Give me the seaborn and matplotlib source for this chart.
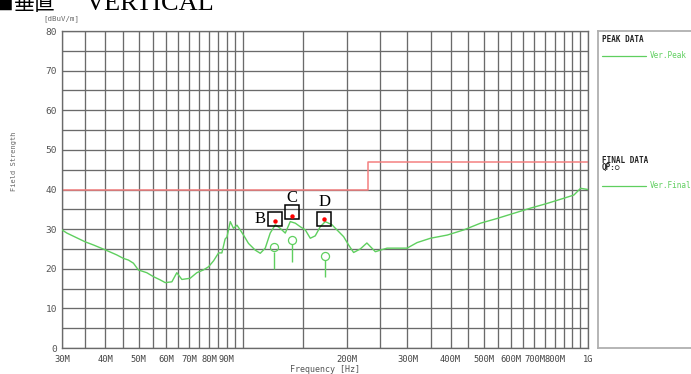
import numpy as np
import pandas as pd
import matplotlib
matplotlib.use("Agg")
import matplotlib.pyplot as plt
from matplotlib.ticker import NullFormatter
import seaborn as sns

# peak trace (MHz, dBuV/m)
peak_freq = [30.0, 31.0, 35.0, 37.0, 40.2, 43.2, 45.2, 46.7, 48.3, 49.9,
             52.8, 55.2, 57.7, 59.7, 62.4, 64.5, 66.7, 70.5, 73.7, 77.0,
             79.7, 82.4, 85.2, 87.1, 89.0, 90.1, 92.1, 94.1, 96.3, 98.4,
             100.6, 104.0, 108.8, 112.5, 116.3, 120.2, 124.3, 128.5, 132.9, 137.4,
             142.1, 146.9, 151.9, 157.0, 162.3, 167.8, 173.5, 181.4, 187.6, 196.1,
             202.7, 209.6, 219.2, 229.0, 242.3, 250.5, 262.0, 280.0, 299.4, 320.0,
             349.9, 391.2, 436.9, 488.4, 546.0, 610.0, 681.9, 762.3, 851.5, 910.2,
             951.7, 1000.0]
peak_level = [29.8, 29.0, 26.8, 26.0, 24.7, 23.5, 22.6, 22.2, 21.4, 19.7,
              19.0, 18.0, 17.2, 16.5, 16.7, 19.0, 17.3, 17.6, 19.0, 19.7,
              20.5, 22.0, 24.0, 24.0, 27.5, 28.0, 31.9, 30.2, 31.0, 29.8,
              28.5, 26.4, 24.7, 23.9, 25.2, 29.0, 31.1, 30.2, 29.0, 31.9,
              31.5, 30.6, 29.8, 27.7, 28.3, 30.6, 31.9, 31.1, 29.8, 28.1,
              26.0, 24.1, 25.0, 26.5, 24.3, 24.7, 25.2, 25.2, 25.2, 26.6,
              27.7, 28.5, 29.8, 31.5, 32.7, 34.0, 35.3, 36.5, 37.8, 38.6,
              40.3, 40.0]

# limit line
limit_freq = [30, 230, 230, 1000]
limit_level = [40, 40, 47, 47]

# final QP data
qp_freq = [123.4, 139.4, 173.5]
qp_level = [25.4, 27.3, 23.3]
qp_stem_bottom = [20.0, 21.8, 18.0]

# marked points B, C, D
mark_labels = ["B", "C", "D"]
mark_freq = [124.3, 139.0, 172.4]
mark_dot_level = [32.1, 33.4, 32.6]
mark_box_level = [32.5, 34.3, 32.5]

xtick_vals = [30, 40, 50, 60, 70, 80, 90, 200, 300, 400, 500, 600, 700, 800, 1000]
xtick_text = ["30M", "40M", "50M", "60M", "70M", "80M", "90M", "200M", "300M",
              "400M", "500M", "600M", "700M", "800M", "1G"]
xgrid_vals = list(range(30, 100, 5)) + list(range(100, 1001, 50))

sns.set_style("white")
plt.rcParams["font.family"] = ["DejaVu Sans Mono", "Noto Sans CJK JP"]

W, H = 691, 374
fig = plt.figure(figsize=(W / 100, H / 100), dpi=100)
ax = fig.add_axes([62 / W, 1 - 348 / H, (588 - 62) / W, (348 - 31) / H])

green = "#5fcf5f"
grid_c = "#6a6a6a"

df = pd.DataFrame({"freq": peak_freq, "level": peak_level})
ax.set_xscale("log")
sns.lineplot(data=df, x="freq", y="level", ax=ax, color=green, lw=1.0, sort=True, zorder=3)
ax.plot(limit_freq, limit_level, color="#f48080", lw=1.1, zorder=2)

# QP finals: open circles with stems
ax.vlines(qp_freq, qp_stem_bottom, np.array(qp_level) - 1.05, color=green, lw=1, zorder=3)
ax.plot(qp_freq, qp_level, "o", ms=5.8, mfc="none", mec=green, mew=0.9, zorder=3)

# B, C, D boxes
ax.plot(mark_freq, mark_box_level, "s", ms=10.4, mfc="none", mec="black", mew=1.1, zorder=5)
ax.plot(mark_freq, mark_dot_level, "o", ms=3.2, color="red", mec="none", zorder=6)
offsets = [(-15, 0), (0, 14), (0, 17)]
for lab, f, lv, off in zip(mark_labels, mark_freq, mark_box_level, offsets):
    ax.annotate(lab, (f, lv), xytext=off, textcoords="offset pixels",
                ha="center", va="center", fontsize=12, family="Liberation Serif",
                color="black", zorder=7)

ax.set_xlim(30, 1000)
ax.set_ylim(0, 80)
ax.set_xticks(xtick_vals)
ax.set_xticklabels(xtick_text)
ax.set_xticks(xgrid_vals, minor=True)
ax.xaxis.set_minor_formatter(NullFormatter())
ax.set_yticks(range(0, 81, 10))
ax.set_yticks(range(0, 81, 5), minor=True)
ax.grid(True, which="both", color=grid_c, lw=0.95, zorder=1)
ax.tick_params(axis="x", which="both", length=0, pad=5, labelsize=6.3, labelcolor="#444")
ax.tick_params(axis="y", which="major", length=2.5, width=0.8, color=grid_c, pad=1,
               labelsize=6.8, labelcolor="#555")
ax.tick_params(axis="y", which="minor", length=0)
ax.set_xlabel("Frequency [Hz]", fontsize=6, color="#555", labelpad=1)
ax.set_ylabel("")
for s in ax.spines.values():
    s.set_color(grid_c)
    s.set_linewidth(0.95)

fig.text(43 / W, 1 - 19 / H, "[dBuV/m]", fontsize=5.3, color="#666", va="center")
fig.text(14 / W, 1 - 161 / H, "Field Strength", fontsize=5, color="#666",
         rotation=90, ha="center", va="center")

# title cut off at top
fig.text(-3 / W, 1 - 10 / H, "■", fontsize=11, color="black", va="baseline",
         family=["Noto Sans CJK JP"])
fig.text(14 / W, 1 - 10 / H, "垂直", fontsize=15, color="black", va="baseline",
         family=["Noto Sans CJK JP"])
fig.text(86 / W, 1 - 10 / H, "VERTICAL", fontsize=19, color="black", va="baseline",
         family=["Liberation Serif"])

# legend panel on the right
lax = fig.add_axes([598 / W, 1 - 348 / H, (720 - 598) / W, (348 - 31) / H])
lax.set_xlim(598, 720)
lax.set_ylim(348, 31)
lax.set_xticks([])
lax.set_yticks([])
for s in lax.spines.values():
    s.set_color("#b0b0b0")
    s.set_linewidth(1.3)
lax.text(602, 39, "PEAK DATA", fontsize=5.5, fontweight="bold", color="#222", va="center")
lax.plot([602, 646], [55.7, 55.7], color=green, lw=0.9)
lax.text(650, 55.7, "Ver.Peak", fontsize=5.5, color=green, va="center")
lax.text(602, 160, "FINAL DATA", fontsize=5.5, fontweight="bold", color="#222", va="center")
lax.text(602, 167.5, "QP:○", fontsize=5.5, fontweight="bold", color="#222", va="center")
lax.plot([602, 646], [185.7, 185.7], color=green, lw=0.9)
lax.text(650, 185.7, "Ver.Final", fontsize=5.5, color=green, va="center")

fig.savefig("out.png", dpi=100)
